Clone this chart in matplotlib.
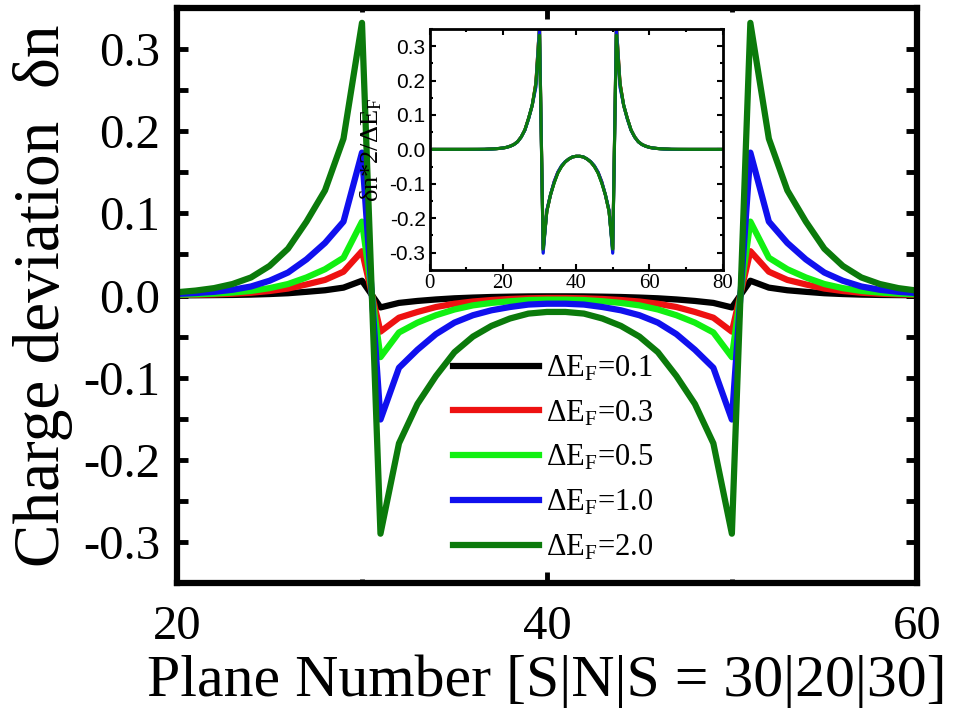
import numpy as np
import matplotlib
matplotlib.use("Agg")
import matplotlib.pyplot as plt
from matplotlib.ticker import MultipleLocator

plt.rcParams['font.family'] = ['Liberation Serif', 'DejaVu Serif']
plt.rcParams['mathtext.fontset'] = 'custom'
plt.rcParams['mathtext.rm'] = 'Liberation Serif'
plt.rcParams['mathtext.it'] = 'Liberation Serif:italic'

# plane index 1..80 for the S|N|S = 30|20|30 stack
planes = np.arange(1, 81)

# charge deviation per plane for each Fermi-level shift
dn_01 = [
    0, 0, 0, 0, 0, 0, 0, 0, 0, 0,
    0, 0, 0, 0, 0, 0.00005, 0.00007, 0.0001, 0.00014, 0.0002,
    0.0003, 0.0005, 0.0007, 0.0011, 0.0018, 0.0028, 0.0045, 0.0064, 0.0096, 0.018,
    -0.0145, -0.009, -0.0066, -0.0048, -0.0034, -0.0025, -0.0018, -0.0014, -0.0011, -0.001,
    -0.001, -0.0011, -0.0014, -0.0018, -0.0025, -0.0034, -0.0048, -0.0066, -0.009, -0.0145,
    0.018, 0.0096, 0.0064, 0.0045, 0.0028, 0.0018, 0.0011, 0.0007, 0.0005, 0.0003,
    0.0002, 0.00014, 0.0001, 0.00007, 0.00005, 0, 0, 0, 0, 0,
    0, 0, 0, 0, 0, 0, 0, 0, 0, 0,
]
dn_03 = [
    0, 0, 0, 0, 0, 0, 0, 0, 0, 0,
    0, 0, 0, 0, 0, 0.0001, 0.0002, 0.0003, 0.0004, 0.0006,
    0.0009, 0.0014, 0.0022, 0.0034, 0.0055, 0.0085, 0.0135, 0.019, 0.029, 0.054,
    -0.044, -0.027, -0.020, -0.014, -0.010, -0.0073, -0.0055, -0.0042, -0.0034, -0.003,
    -0.003, -0.0034, -0.0042, -0.0055, -0.0073, -0.010, -0.014, -0.020, -0.027, -0.044,
    0.054, 0.029, 0.019, 0.0135, 0.0085, 0.0055, 0.0034, 0.0022, 0.0014, 0.0009,
    0.0006, 0.0004, 0.0003, 0.0002, 0.0001, 0, 0, 0, 0, 0,
    0, 0, 0, 0, 0, 0, 0, 0, 0, 0,
]
dn_05 = [
    0, 0, 0, 0, 0, 0, 0, 0, 0, 0,
    0, 0, 0, 0, 0, 0.0001, 0.0002, 0.0004, 0.0007, 0.001,
    0.0015, 0.0023, 0.0036, 0.0056, 0.009, 0.014, 0.022, 0.032, 0.046, 0.090,
    -0.075, -0.045, -0.033, -0.024, -0.017, -0.012, -0.009, -0.007, -0.0055, -0.005,
    -0.005, -0.0055, -0.007, -0.009, -0.012, -0.017, -0.024, -0.033, -0.045, -0.075,
    0.090, 0.046, 0.032, 0.022, 0.014, 0.009, 0.0056, 0.0036, 0.0023, 0.0015,
    0.001, 0.0007, 0.0004, 0.0002, 0.0001, 0, 0, 0, 0, 0,
    0, 0, 0, 0, 0, 0, 0, 0, 0, 0,
]
dn_10 = [
    0, 0, 0, 0, 0, 0, 0, 0, 0, 0,
    0, 0, 0, 0.0001, 0.0002, 0.0003, 0.0005, 0.0009, 0.0014, 0.002,
    0.003, 0.0045, 0.007, 0.011, 0.018, 0.028, 0.044, 0.064, 0.090, 0.174,
    -0.151, -0.088, -0.066, -0.047, -0.033, -0.024, -0.018, -0.014, -0.011, -0.010,
    -0.010, -0.011, -0.014, -0.018, -0.024, -0.033, -0.047, -0.066, -0.088, -0.151,
    0.174, 0.090, 0.064, 0.044, 0.028, 0.018, 0.011, 0.007, 0.0045, 0.003,
    0.002, 0.0014, 0.0009, 0.0005, 0.0003, 0.0002, 0.0001, 0, 0, 0,
    0, 0, 0, 0, 0, 0, 0, 0, 0, 0,
]
dn_20 = [
    0, 0, 0, 0, 0, 0, 0, 0, 0, 0,
    0.0001, 0.0002, 0.0003, 0.0004, 0.0006, 0.0009, 0.0013, 0.0019, 0.0028, 0.004,
    0.006, 0.009, 0.014, 0.022, 0.036, 0.057, 0.090, 0.128, 0.191, 0.332,
    -0.290, -0.180, -0.132, -0.098, -0.069, -0.050, -0.037, -0.028, -0.022, -0.020,
    -0.020, -0.022, -0.028, -0.037, -0.050, -0.069, -0.098, -0.132, -0.180, -0.290,
    0.332, 0.191, 0.128, 0.090, 0.057, 0.036, 0.022, 0.014, 0.009, 0.006,
    0.004, 0.0028, 0.0019, 0.0013, 0.0009, 0.0006, 0.0004, 0.0003, 0.0002, 0.0001,
    0, 0, 0, 0, 0, 0, 0, 0, 0, 0,
]

shifts = [0.1, 0.3, 0.5, 1.0, 2.0]
labels = ['0.1', '0.3', '0.5', '1.0', '2.0']
series = [dn_01, dn_03, dn_05, dn_10, dn_20]
colors = ['#000000', '#ee1111', '#11f011', '#1010ee', '#0b7a0b']
yticks = [-0.3, -0.2, -0.1, 0.0, 0.1, 0.2, 0.3]
ytick_labels = ['-0.3', '-0.2', '-0.1', '0.0', '0.1', '0.2', '0.3']

fig = plt.figure(figsize=(9.57, 7.08), dpi=100)
ax = fig.add_axes([0.185, 0.1766, 0.773, 0.812])

for y, c, lab in zip(series, colors, labels):
    ax.plot(planes, y, color=c, lw=4.5,
            label=r'$\mathrm{\Delta E}_\mathrm{F}$=' + lab)

ax.set_xlim(20, 60)
ax.set_ylim(-0.35, 0.35)
ax.xaxis.set_major_locator(MultipleLocator(20))
ax.xaxis.set_minor_locator(MultipleLocator(10))
ax.yaxis.set_minor_locator(MultipleLocator(0.05))
ax.set_yticks(yticks)
ax.set_yticklabels(ytick_labels)
ax.tick_params(which='both', direction='in', top=True, right=True, width=3.5)
ax.tick_params(axis='x', which='major', length=8, pad=16, labelsize=35)
ax.tick_params(axis='x', which='minor', length=3)
ax.tick_params(axis='y', which='both', length=8, pad=12, labelsize=35)
for s in ax.spines.values():
    s.set_linewidth(4.5)

ax.set_xlabel('Plane Number [S|N|S = 30|20|30]', fontsize=43)
ax.xaxis.set_label_coords(0.5, -0.125)
ax.set_ylabel('Charge deviation  δn', fontsize=47)
ax.yaxis.set_label_coords(-0.14, 0.5)

ax.legend(loc='center left', bbox_to_anchor=(0.373, 0.217), frameon=False,
          fontsize=22, handlelength=2.8, handletextpad=0.25, labelspacing=0.5,
          borderpad=0, borderaxespad=0)

# inset: deviation normalised by the Fermi-level shift over the full stack
axi = fig.add_axes([0.449, 0.619, 0.306, 0.340])
for y, c, dE in zip(series, colors, shifts):
    axi.plot(planes, np.array(y) * 2 / dE, color=c, lw=2.2)
axi.set_xlim(0, 80)
axi.set_ylim(-0.35, 0.35)
axi.xaxis.set_major_locator(MultipleLocator(20))
axi.xaxis.set_minor_locator(MultipleLocator(10))
axi.yaxis.set_minor_locator(MultipleLocator(0.05))
axi.set_yticks(yticks)
axi.set_yticklabels(ytick_labels, fontfamily='Liberation Sans')
axi.tick_params(which='both', direction='in', top=True, right=True, width=1.5)
axi.tick_params(which='major', length=4, labelsize=15, pad=3)
axi.tick_params(which='minor', length=2.5)
for s in axi.spines.values():
    s.set_linewidth(2)
axi.set_ylabel(r'δn*2/$\mathrm{\Delta E}_\mathrm{F}$', fontsize=19, labelpad=4)

fig.savefig('out.png', dpi=100)
